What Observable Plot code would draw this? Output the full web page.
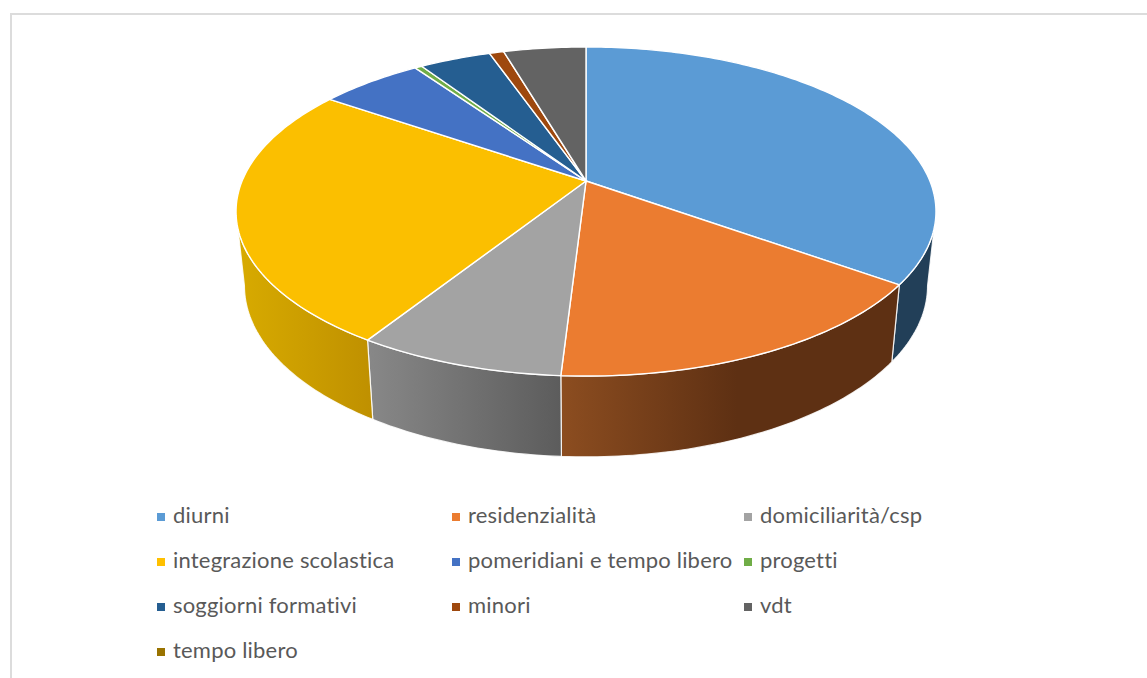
<!DOCTYPE html>
<html>
<head>
<meta charset="utf-8">
<script src="https://cdn.jsdelivr.net/npm/d3@7"></script>
<script src="https://cdn.jsdelivr.net/npm/@observablehq/plot@0.6"></script>
<style>
html,body{margin:0;padding:0;background:#fff;overflow:hidden;width:1147px;height:678px}
#frame{position:absolute;left:10px;top:13px;width:1137px;height:665px;box-sizing:border-box;border-left:2px solid #dcdcdc;border-top:2px solid #dcdcdc}
#chart{position:absolute;left:0;top:0}
#legend{position:absolute;left:157px;top:492px;display:grid;grid-template-columns:295px 292px 292px;grid-auto-rows:45px;font-family:Lato,sans-serif;font-size:22px;letter-spacing:.2px;font-variant-ligatures:none;color:#595959}
#legend div{display:flex;align-items:center;white-space:nowrap}
#legend i{display:block;width:8px;height:8px;margin-right:8px;flex:none;position:relative;top:2px}
</style>
</head>
<body>
<div id="frame"></div>
<div id="chart"></div>
<div id="legend"></div>
<script>
const labels = ["diurni","residenzialità","domiciliarità/csp","integrazione scolastica","pomeridiani e tempo libero","progetti","soggiorni formativi","minori","vdt","tempo libero"];
const values = [34.9,16.05,8.05,25.6,5.7,0.4,3.95,0.8,4.55,0];
const colors = ["#5b9bd5","#eb7c30","#a3a3a3","#fbbf00","#4472c4","#70ad47","#255e91","#9e480e","#636363","#997300"];
const sideStart = ["#223f58","#8c4d20","#888888","#d8ab00","#2a4375","#43682b","#163955","#5f2c08","#3c3c3c","#5c4500"];
const sideEnd   = ["#223f58","#5e3013","#5c5c5c","#bf9000","#2a4375","#43682b","#163955","#5f2c08","#3c3c3c","#5c4500"];

// Perspective view of the disc: turns a fraction of the pie into plot units.
const A = 343.9, B = 158.9, K = 0.1854;
function upperPoint(f){
  const t = f*2*Math.PI, u = Math.sin(t), v = -Math.cos(t), w = 1-K*v;
  return [A*u/w, B*v/w];
}
function lowerPoint(f){
  const [x,y] = upperPoint(f);
  return [x*0.976, y*1.04+73];
}
// Part of the rim that faces the viewer, between the two silhouette points.
const rimFrom = Math.acos(-K)/(2*Math.PI), rimTo = 1-rimFrom;

const total = d3.sum(values);
let acc = 0;
const slices = labels.map((label,i)=>{
  const s = {label,i,start:acc/total,end:(acc+values[i])/total};
  acc += values[i];
  return s;
}).filter(s=>s.end>s.start);

function arcFractions(start,end){
  const n = Math.max(2,Math.ceil((end-start)*360));
  return d3.range(n+1).map(k=>start+(end-start)*k/n);
}

const topRows = slices.flatMap(s=>arcFractions(s.start,s.end).map(f=>{
  const [x,y]=upperPoint(f);
  return {label:s.label,x1:0,y1:0,x2:x,y2:y};
}));

const sideMarks = slices
  .filter(s=>s.end>rimFrom && s.start<rimTo)
  .map(s=>Plot.area(arcFractions(Math.max(s.start,rimFrom),Math.min(s.end,rimTo)).map(f=>{
    const [x1,y1]=upperPoint(f),[x2,y2]=lowerPoint(f);
    return {x1,y1,x2,y2};
  }),{x1:"x1",y1:"y1",x2:"x2",y2:"y2",fill:`url(#side${s.i})`,stroke:"#fff",strokeWidth:1.2,strokeOpacity:0.85}));

const gradients = () => {
  const ns="http://www.w3.org/2000/svg";
  const defs=document.createElementNS(ns,"defs");
  labels.forEach((_,i)=>{
    const g=document.createElementNS(ns,"linearGradient");
    g.setAttribute("id",`side${i}`);
    const stops = i===1 ? [[0,sideStart[i]],[0.52,sideEnd[i]],[1,sideEnd[i]]] : [[0,sideStart[i]],[1,sideEnd[i]]];
    stops.forEach(([o,c])=>{
      const st=document.createElementNS(ns,"stop");
      st.setAttribute("offset",o);
      st.setAttribute("stop-color",c);
      g.appendChild(st);
    });
    defs.appendChild(g);
  });
  return defs;
};

const chart = Plot.plot({
  width:1147,height:490,margin:0,
  x:{domain:[-586,561],range:[0,1147],axis:null},
  y:{domain:[-181,309],range:[0,490],axis:null},
  color:{domain:labels,range:colors},
  style:{background:"transparent"},
  marks:[
    gradients,
    ...sideMarks,
    Plot.area(topRows,{x1:"x1",y1:"y1",x2:"x2",y2:"y2",z:"label",fill:"label",stroke:"#fff",strokeWidth:1.4})
  ]
});
document.getElementById("chart").appendChild(chart);

const legendBox=document.getElementById("legend");
labels.forEach((l,i)=>{
  const d=document.createElement("div");
  const sw=document.createElement("i");
  sw.style.background=colors[i]==="#fbbf00"?"#ffc000":colors[i];
  d.appendChild(sw);
  d.appendChild(document.createTextNode(l));
  legendBox.appendChild(d);
});
</script>
</body>
</html>
